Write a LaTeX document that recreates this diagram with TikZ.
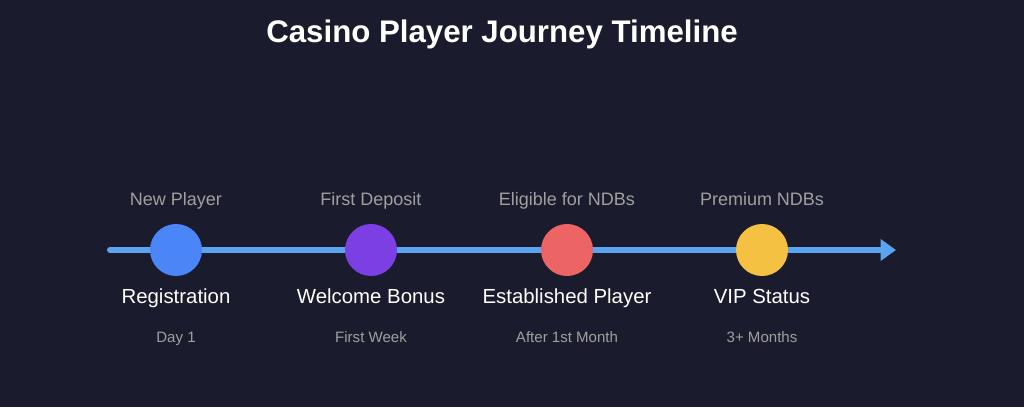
\documentclass[tikz,border=0pt]{standalone}
\usepackage{fontspec}
\setmainfont{Liberation Sans}
\usepackage{tikz}
\usetikzlibrary{arrows.meta}

\definecolor{bgnight}{HTML}{1A1B2C}
\definecolor{lineblue}{HTML}{5BA4F0}
\definecolor{stepblue}{HTML}{4A86F7}
\definecolor{steppurple}{HTML}{7B3FE4}
\definecolor{stepred}{HTML}{ED6464}
\definecolor{stepyellow}{HTML}{F4C142}
\definecolor{softgray}{HTML}{A0A0A0}

\begin{document}
\begin{tikzpicture}[x=0.025cm, y=-0.025cm,
  stage/.style={shape=circle, minimum size=52*0.7113pt, inner sep=0pt},
  toplabel/.style={anchor=base, text=softgray, font=\fontsize{12.8}{15}\selectfont},
  mainlabel/.style={anchor=base, text=white, font=\fontsize{14.5}{17}\selectfont},
  whenlabel/.style={anchor=base, text=softgray, font=\fontsize{10.7}{13}\selectfont}]

\fill[bgnight] (0,0) rectangle (1024,407);
\useasboundingbox (0,0) rectangle (1024,407);

\node[name=title, anchor=base, text=white, font=\fontsize{22.2}{26}\selectfont\bfseries] at (502,43) {Casino Player Journey Timeline};

\coordinate (tlstart) at (110,250);
\coordinate (tlend) at (896,250);
\draw[lineblue, line width=4.3pt, line cap=round, -{Triangle[length=11pt, width=15pt]}] (tlstart) -- (tlend);

\node[name=reg, stage, fill=stepblue] at (176,250) {};
\node[name=welcome, stage, fill=steppurple] at (371,250) {};
\node[name=established, stage, fill=stepred] at (567,250) {};
\node[name=vip, stage, fill=stepyellow] at (762,250) {};

\node[name=reg-top, toplabel] at (176,205) {New Player};
\node[name=welcome-top, toplabel] at (371,205) {First Deposit};
\node[name=established-top, toplabel] at (567,205) {Eligible for NDBs};
\node[name=vip-top, toplabel] at (762,205) {Premium NDBs};

\node[name=reg-main, mainlabel] at (176,303) {Registration};
\node[name=welcome-main, mainlabel] at (371,303) {Welcome Bonus};
\node[name=established-main, mainlabel] at (567,303) {Established Player};
\node[name=vip-main, mainlabel] at (762,303) {VIP Status};

\node[name=reg-when, whenlabel] at (176,342) {Day 1};
\node[name=welcome-when, whenlabel] at (371,342) {First Week};
\node[name=established-when, whenlabel] at (567,342) {After 1st Month};
\node[name=vip-when, whenlabel] at (762,342) {3+ Months};

\end{tikzpicture}
\end{document}
